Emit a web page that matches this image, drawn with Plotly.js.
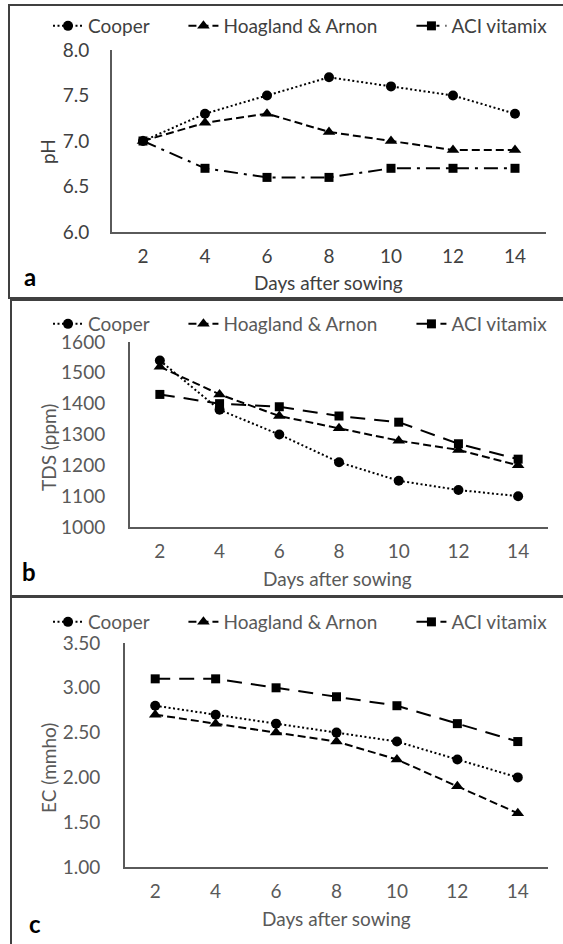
<!DOCTYPE html>
<html><head><meta charset="utf-8">
<script src="https://cdn.plot.ly/plotly-3.0.1.min.js"></script>
<style>html,body{margin:0;padding:0;background:#fff}#chart{width:563px;height:944px}</style>
</head><body><div id="chart"></div>
<script>
const days = ['2','4','6','8','10','12','14'];
const seriesNames = ['Cooper','Hoagland & Arnon','ACI vitamix'];

const phCooper   = [7.0, 7.3, 7.5, 7.7, 7.6, 7.5, 7.3];
const phHoagland = [7.0, 7.2, 7.3, 7.1, 7.0, 6.9, 6.9];
const phACI      = [7.0, 6.7, 6.6, 6.6, 6.7, 6.7, 6.7];

const tdsCooper   = [1540, 1380, 1300, 1210, 1150, 1120, 1100];
const tdsHoagland = [1520, 1430, 1360, 1320, 1280, 1250, 1200];
const tdsACI      = [1430, 1400, 1390, 1360, 1340, 1270, 1220];

const ecCooper   = [2.8, 2.7, 2.6, 2.5, 2.4, 2.2, 2.0];
const ecHoagland = [2.7, 2.6, 2.5, 2.4, 2.2, 1.9, 1.6];
const ecACI      = [3.1, 3.1, 3.0, 2.9, 2.8, 2.6, 2.4];

const FONT = 'Lato, "Open Sans", sans-serif';
const W = 563, H = 944;
const px = v => v / W;
const py = v => 1 - v / H;
const namePad = [6, 6, 0];

function mk(i, y, xa, ya, lg, dash, sym, size) {
  return {
    type: 'scatter', mode: 'lines+markers', name: seriesNames[i] + '\u00A0'.repeat(namePad[i]),
    x: days, y: y, xaxis: xa, yaxis: ya, legend: lg,
    line: {color: '#000', width: 2, dash: dash},
    marker: {color: '#000', symbol: sym, size: size},
    hoverinfo: 'skip'
  };
}
const DOT = '2px,2.5px', DASH = '8px,4px', LDD = '14px,6px,3px,6px', LD = '15px,9px';
const data = [
  mk(0, phCooper,   'x',  'y',  'legend',  DOT,  'circle', 10),
  mk(1, phHoagland, 'x',  'y',  'legend',  DASH, 'triangle-up', 11),
  mk(2, phACI,      'x',  'y',  'legend',  LDD,  'square', 9),
  mk(0, tdsCooper,  'x2', 'y2', 'legend2', DOT,  'circle', 10),
  mk(1, tdsHoagland,'x2', 'y2', 'legend2', DASH, 'triangle-up', 11),
  mk(2, tdsACI,     'x2', 'y2', 'legend2', LD,   'square', 9),
  mk(0, ecCooper,   'x3', 'y3', 'legend3', DOT,  'circle', 10),
  mk(1, ecHoagland, 'x3', 'y3', 'legend3', DASH, 'triangle-up', 11),
  mk(2, ecACI,      'x3', 'y3', 'legend3', LD,   'square', 9)
];

function xax(d0, d1, anchor, col) {
  return {domain: [px(d0), px(d1)], anchor: anchor, type: 'category', range: [-0.5, 6.5],
    showline: true, linecolor: '#5a5a5a', linewidth: 2, showgrid: false, zeroline: false,
    ticks: 'outside', ticklen: 6, tickcolor: 'rgba(0,0,0,0)',
    tickfont: {family: FONT, size: 19, color: col}, fixedrange: true};
}
function yax(t0, t1, anchor, range, dtick, fmt, col, tl) {
  return {domain: [py(t1), py(t0)], anchor: anchor, range: range, dtick: dtick, tick0: range[0],
    tickformat: fmt, showline: true, linecolor: '#5a5a5a', linewidth: 2, showgrid: false, zeroline: false,
    ticks: 'outside', ticklen: tl, tickcolor: 'rgba(0,0,0,0)',
    tickfont: {family: FONT, size: 19, color: col}, fixedrange: true};
}
function leg(yPix, col) {
  return {orientation: 'h', x: px(48), xanchor: 'left', y: py(yPix), yanchor: 'middle',
    font: {family: FONT, size: 19, color: col}, bgcolor: 'rgba(0,0,0,0)', tracegroupgap: 0,
    itemclick: false, itemdoubleclick: false};
}
function ann(text, x, y, opts) {
  return Object.assign({text: text, x: px(x), y: py(y), xref: 'paper', yref: 'paper',
    xanchor: 'center', yanchor: 'middle', showarrow: false,
    font: {family: FONT, size: 19, color: '#404040'}}, opts || {});
}
function rect(x0, y0, y1) {
  return {type: 'rect', xref: 'paper', yref: 'paper', x0: px(x0), x1: 1.02, y0: py(y1), y1: py(y0),
    line: {color: '#404040', width: 2}, fillcolor: 'rgba(0,0,0,0)'};
}

const layout = {
  width: W, height: H, margin: {l: 0, r: 0, t: 0, b: 0},
  paper_bgcolor: '#fff', plot_bgcolor: '#fff',
  font: {family: FONT, size: 19, color: '#404040'},
  xaxis:  xax(112, 546, 'y',  '#404040'),
  yaxis:  yax(50, 232, 'x',  [6, 8], 0.5, '.1f', '#404040', 17),
  xaxis2: xax(130, 548, 'y2', '#595959'),
  yaxis2: yax(342, 527, 'x2', [1000, 1600], 100, 'd', '#595959', 19),
  xaxis3: xax(125, 548, 'y3', '#595959'),
  yaxis3: yax(643, 867, 'x3', [1, 3.5], 0.5, '.2f', '#595959', 19),
  legend:  leg(26, '#404040'),
  legend2: leg(324, '#595959'),
  legend3: leg(622, '#595959'),
  showlegend: true,
  shapes: [rect(9, 5, 298), rect(11, 300, 597), rect(11, 596, 960)],
  annotations: [
    ann('pH', 47, 152, {textangle: -90}),
    ann('TDS (ppm)', 48, 448, {textangle: -90, font: {family: FONT, size: 19, color: '#595959'}}),
    ann('EC (mmho)', 48, 768, {textangle: -90, font: {family: FONT, size: 19, color: '#595959'}}),
    ann('Days after sowing', 328, 282),
    ann('Days after sowing', 337, 578, {font: {family: FONT, size: 19, color: '#595959'}}),
    ann('Days after sowing', 336, 918, {font: {family: FONT, size: 19, color: '#595959'}}),
    ann('<b>a</b>', 30, 276, {font: {family: FONT, size: 24, color: '#000'}}),
    ann('<b>b</b>', 29, 571, {font: {family: FONT, size: 24, color: '#000'}}),
    ann('<b>c</b>', 35, 923, {font: {family: FONT, size: 24, color: '#000'}})
  ]
};
Plotly.newPlot('chart', data, layout, {staticPlot: true, displayModeBar: false});
</script></body></html>
